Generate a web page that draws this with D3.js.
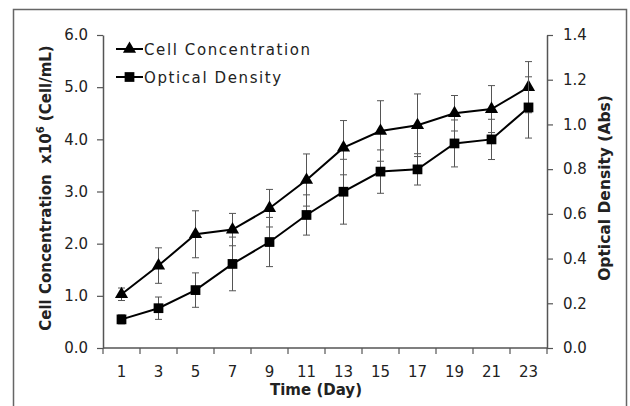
<!DOCTYPE html>
<html>
<head>
<meta charset="utf-8">
<script src="https://cdn.jsdelivr.net/npm/d3@7"></script>
<style>
  body { margin: 0; background: #fff; }
  text { font-family: "DejaVu Sans", sans-serif; fill: #222; }
</style>
</head>
<body>
<div id="chart"></div>
<script>
const days = [1, 3, 5, 7, 9, 11, 13, 15, 17, 19, 21, 23];
const cellConc = [1.03, 1.58, 2.18, 2.27, 2.68, 3.22, 3.84, 4.16, 4.27, 4.50, 4.58, 5.00];
const cellErr = [0.12, 0.34, 0.45, 0.31, 0.36, 0.50, 0.52, 0.58, 0.60, 0.34, 0.45, 0.49];
const optDens = [0.128, 0.178, 0.259, 0.376, 0.474, 0.595, 0.699, 0.789, 0.799, 0.915, 0.933, 1.076];
const odErr = [0.02, 0.05, 0.077, 0.12, 0.11, 0.09, 0.145, 0.097, 0.07, 0.105, 0.09, 0.137];
const leftTicks = [0, 1, 2, 3, 4, 5, 6];
const rightTicks = [0, 0.2, 0.4, 0.6, 0.8, 1.0, 1.2, 1.4];

const width = 630, height = 406;
const margin = { top: 35, right: 83, bottom: 58, left: 103 };

const svg = d3.select("#chart")
  .append("svg")
  .attr("width", width)
  .attr("height", height);

// outer frame (runs off the bottom like the original)
svg.append("rect")
  .attr("x", 13.5).attr("y", 9.5)
  .attr("width", 613).attr("height", 420)
  .attr("fill", "none")
  .attr("stroke", "#666")
  .attr("stroke-width", 1.5);

const x = d3.scaleBand()
  .domain(days)
  .range([margin.left, width - margin.right]);

const yL = d3.scaleLinear().domain([0, 6]).range([height - margin.bottom, margin.top]);
const yR = d3.scaleLinear().domain([0, 1.4]).range([height - margin.bottom, margin.top]);

const axisColor = "#555";

// x axis: baseline + ticks at band edges, labels centred
const xAxis = svg.append("g").attr("transform", `translate(0,${height - margin.bottom})`);
xAxis.append("line")
  .attr("x1", margin.left).attr("x2", width - margin.right)
  .attr("stroke", axisColor).attr("stroke-width", 1.5);
xAxis.selectAll("line.tick")
  .data(days.concat(["end"]))
  .join("line")
  .attr("class", "tick")
  .attr("x1", d => d === "end" ? x.range()[1] : x(d))
  .attr("x2", d => d === "end" ? x.range()[1] : x(d))
  .attr("y1", 0).attr("y2", 6)
  .attr("stroke", axisColor).attr("stroke-width", 1.2);
xAxis.selectAll("text")
  .data(days)
  .join("text")
  .attr("x", d => x(d) + x.bandwidth() / 2)
  .attr("y", 29)
  .attr("text-anchor", "middle")
  .attr("font-size", 15)
  .text(d => d);

// left axis
svg.append("g")
  .attr("transform", `translate(${margin.left},0)`)
  .call(d3.axisLeft(yL).tickValues(leftTicks).tickFormat(d3.format(".1f")).tickSize(6).tickSizeOuter(0).tickPadding(9))
  .call(g => g.select(".domain").attr("stroke", axisColor).attr("stroke-width", 1.5))
  .call(g => g.selectAll(".tick line").attr("stroke", axisColor).attr("stroke-width", 1.2))
  .call(g => g.selectAll(".tick text").attr("font-size", 15).attr("fill", "#222").attr("font-family", "DejaVu Sans"));

// right axis
svg.append("g")
  .attr("transform", `translate(${width - margin.right},0)`)
  .call(d3.axisRight(yR).tickValues(rightTicks).tickFormat(d3.format(".1f")).tickSize(6).tickSizeOuter(0).tickPadding(10))
  .call(g => g.select(".domain").attr("stroke", axisColor).attr("stroke-width", 1.5))
  .call(g => g.selectAll(".tick line").attr("stroke", axisColor).attr("stroke-width", 1.2))
  .call(g => g.selectAll(".tick text").attr("font-size", 15).attr("fill", "#222").attr("font-family", "DejaVu Sans"));

// axis titles
svg.append("text")
  .attr("transform", "translate(51,188) rotate(-90)")
  .attr("text-anchor", "middle")
  .attr("font-size", 15)
  .attr("font-weight", "bold")
  .call(t => {
    t.append("tspan").text("Cell Concentration\u00a0\u00a0x10");
    t.append("tspan").attr("font-size", 10).attr("dy", -7).text("6");
    t.append("tspan").attr("dy", 7).text("\u00a0(Cell/mL)");
  });

svg.append("text")
  .attr("transform", "translate(610,188) rotate(-90)")
  .attr("text-anchor", "middle")
  .attr("font-size", 15.5)
  .attr("font-weight", "bold")
  .text("Optical Density (Abs)");

svg.append("text")
  .attr("x", 316).attr("y", 395)
  .attr("text-anchor", "middle")
  .attr("font-size", 15)
  .attr("font-weight", "bold")
  .text("Time (Day)");

const cx = d => x(d) + x.bandwidth() / 2;
const triangle = d3.symbol().type(d3.symbolTriangle).size(75);
const square = d3.symbol().type(d3.symbolSquare).size(95);

function drawSeries(values, errs, y, sym) {
  const g = svg.append("g");
  // error bars
  const eb = g.selectAll("g.err")
    .data(days)
    .join("g")
    .attr("class", "err")
    .attr("stroke", "#555")
    .attr("stroke-width", 1);
  eb.append("line")
    .attr("x1", cx).attr("x2", cx)
    .attr("y1", (d, i) => y(values[i] + errs[i]))
    .attr("y2", (d, i) => y(values[i] - errs[i]));
  eb.append("line")
    .attr("x1", d => cx(d) - 3.5).attr("x2", d => cx(d) + 3.5)
    .attr("y1", (d, i) => y(values[i] + errs[i]))
    .attr("y2", (d, i) => y(values[i] + errs[i]));
  eb.append("line")
    .attr("x1", d => cx(d) - 3.5).attr("x2", d => cx(d) + 3.5)
    .attr("y1", (d, i) => y(values[i] - errs[i]))
    .attr("y2", (d, i) => y(values[i] - errs[i]));

  g.append("path")
    .datum(days)
    .attr("fill", "none")
    .attr("stroke", "#000")
    .attr("stroke-width", 2)
    .attr("d", d3.line().x(cx).y((d, i) => y(values[i])));

  g.selectAll("path.pt")
    .data(days)
    .join("path")
    .attr("class", "pt")
    .attr("d", sym)
    .attr("fill", "#000")
    .attr("transform", (d, i) => `translate(${cx(d)},${y(values[i])})`);
}

drawSeries(cellConc, cellErr, yL, triangle);
drawSeries(optDens, odErr, yR, square);

// legend
const legendData = [
  { label: "Cell Concentration", sym: triangle, y: 49 },
  { label: "Optical Density", sym: square, y: 77 }
];
const legend = svg.append("g");
legend.selectAll("line")
  .data(legendData)
  .join("line")
  .attr("x1", 116).attr("x2", 143)
  .attr("y1", d => d.y).attr("y2", d => d.y)
  .attr("stroke", "#000").attr("stroke-width", 2);
legend.selectAll("path")
  .data(legendData)
  .join("path")
  .attr("d", d => d.sym())
  .attr("fill", "#000")
  .attr("transform", d => `translate(129.5,${d.y})`);
legend.selectAll("text")
  .data(legendData)
  .join("text")
  .attr("x", 144)
  .attr("y", d => d.y + 5.5)
  .attr("font-size", 15)
  .attr("letter-spacing", 1.6)
  .text(d => d.label);
</script>
</body>
</html>
